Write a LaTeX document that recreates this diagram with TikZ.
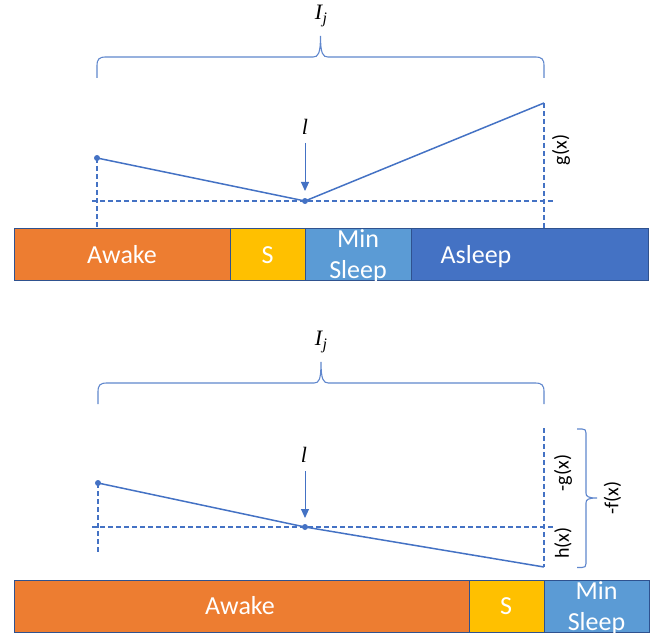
\documentclass[tikz,border=0pt]{standalone}
\usepackage{fontspec}
\setmainfont{Carlito}
\newfontfamily\mfont{Liberation Serif}
\usetikzlibrary{arrows.meta}
\definecolor{cOrange}{HTML}{ED7D31}
\definecolor{cYellow}{HTML}{FFC000}
\definecolor{cLight}{HTML}{5B9BD5}
\definecolor{cBlue}{HTML}{4472C4}
\definecolor{cEdge}{HTML}{2F528F}
\definecolor{cLine}{HTML}{4472C4}
\newcommand{\Ijlabel}{I\kern0.5pt\raisebox{-4pt}{\fontsize{16}{18}\selectfont j}}
\begin{document}
\begin{tikzpicture}[x=1pt,y=-1pt,
  seg/.style={draw=cEdge,line width=1pt,anchor=north west,inner sep=0pt,outer sep=0pt},
  segtext/.style={text=white,font=\fontsize{26}{31}\selectfont,anchor=base,inner sep=0pt},
  curve/.style={cLine,line width=1.5pt},
  dashline/.style={cLine,line width=1.5pt,dash pattern=on 5pt off 3pt},
  bracestyle/.style={cLine!85,line width=1.1pt},
  pt/.style={circle,fill=cLine,inner sep=0pt,minimum size=6pt},
  lbl/.style={font=\fontsize{20}{24}\selectfont,rotate=90,inner sep=0pt},
  mathlbl/.style={font=\mfont\itshape\fontsize{22}{24}\selectfont,inner sep=0pt},
  pointer/.style={cLine,line width=1pt,-{Triangle[width=8pt,length=9pt]}}
]
\useasboundingbox (0,0) rectangle (658,639);

% ================= TOP =================
\coordinate (tbL) at (97,78);
\coordinate (tbR) at (544,78);
\coordinate (tbT) at (320.5,36);
\draw[bracestyle] (tbL) -- (97,66) .. controls (97,59) and (99,57) .. (106,57)
  -- (313,57) .. controls (318,57) and (320.5,54) .. (tbT)
  .. controls (320.5,54) and (323,57) .. (328,57)
  -- (535,57) .. controls (542,57) and (544,59) .. (544,66) -- (tbR);
\node[mathlbl] (tIj) at (321,16) {\Ijlabel};

\node[pt] (tA) at (97,158) {};
\node[pt] (tM) at (305,201) {};
\coordinate (tR) at (544,103);
\draw[curve] (tA.center) -- (tM.center) -- (tR);

\coordinate (thL) at (92,201);
\coordinate (thR) at (553,201);
\coordinate (tvA) at (97,228);
\coordinate (tvR) at (544,228);
\draw[dashline] (thL) -- (thR);
\draw[dashline] (tA.center) -- (tvA);
\draw[dashline] (tR) -- (tvR);

\node[mathlbl] (tl) at (305,127) {l};
\coordinate (tArS) at (305,143);
\coordinate (tArE) at (305,191);
\draw[pointer] (tArS) -- (tArE);

\node[lbl] (tg) at (561,150) {g(x)};

\node[seg,fill=cOrange,minimum width=216pt,minimum height=52pt] (tAw) at (14,228) {};
\node[seg,fill=cYellow,minimum width=75pt,minimum height=52pt] (tS) at (230,228) {};
\node[seg,fill=cLight,minimum width=106pt,minimum height=52pt] (tMS) at (305,228) {};
\node[seg,fill=cBlue,minimum width=237pt,minimum height=52pt] (tAs) at (411,228) {};
\node[segtext] (tAwT) at (122,263) {Awake};
\node[segtext] (tST) at (267.5,263) {S};
\node[segtext] (tMinT) at (358,247) {Min};
\node[segtext] (tSlT) at (358,278) {Sleep};
\node[segtext] (tAsT) at (476,263) {Asleep};

% ================= BOTTOM =================
\coordinate (bbL) at (98,404);
\coordinate (bbR) at (544,404);
\coordinate (bbT) at (321,362);
\draw[bracestyle] (bbL) -- (98,392) .. controls (98,385) and (100,383) .. (107,383)
  -- (314,383) .. controls (319,383) and (321,380) .. (bbT)
  .. controls (321,380) and (323.5,383) .. (328.5,383)
  -- (535,383) .. controls (542,383) and (544,385) .. (544,392) -- (bbR);
\node[mathlbl] (bIj) at (321,342) {\Ijlabel};

\node[pt] (bA) at (98,483) {};
\node[pt] (bM) at (305,527) {};
\coordinate (bR) at (544,567);
\draw[curve] (bA.center) -- (bM.center) -- (bR);

\coordinate (bhL) at (92,527);
\coordinate (bhR) at (553,527);
\coordinate (bvA) at (98,554);
\coordinate (bvRT) at (544,428);
\draw[dashline] (bhL) -- (bhR);
\draw[dashline] (bA.center) -- (bvA);
\draw[dashline] (bvRT) -- (bR);

\node[mathlbl] (bl) at (304,455) {l};
\coordinate (bArS) at (305,471);
\coordinate (bArE) at (305,518);
\draw[pointer] (bArS) -- (bArE);

\coordinate (rbT) at (577,429);
\coordinate (rbB) at (577,567.5);
\coordinate (rbM) at (597,498);
\draw[bracestyle] (rbT) -- (582,429) .. controls (585,429) and (586,430) .. (586,433)
  -- (586,493) .. controls (586,496.5) and (588,498) .. (rbM)
  .. controls (588,498) and (586,499.5) .. (586,503)
  -- (586,563.5) .. controls (586,566.5) and (585,567.5) .. (582,567.5) -- (rbB);

\node[lbl] (bg) at (563,473) {-g(x)};
\node[lbl] (bh) at (563,543) {h(x)};
\node[lbl] (bf) at (612.5,498) {-f(x)};

\node[seg,fill=cOrange,minimum width=455pt,minimum height=52pt] (bAw) at (14,580) {};
\node[seg,fill=cYellow,minimum width=75pt,minimum height=52pt] (bS) at (469,580) {};
\node[seg,fill=cLight,minimum width=105pt,minimum height=52pt] (bMS) at (544,580) {};
\node[segtext] (bAwT) at (240,614) {Awake};
\node[segtext] (bST) at (506,614) {S};
\node[segtext] (bMinT) at (596.5,599) {Min};
\node[segtext] (bSlT) at (596.5,630) {Sleep};
\end{tikzpicture}
\end{document}
